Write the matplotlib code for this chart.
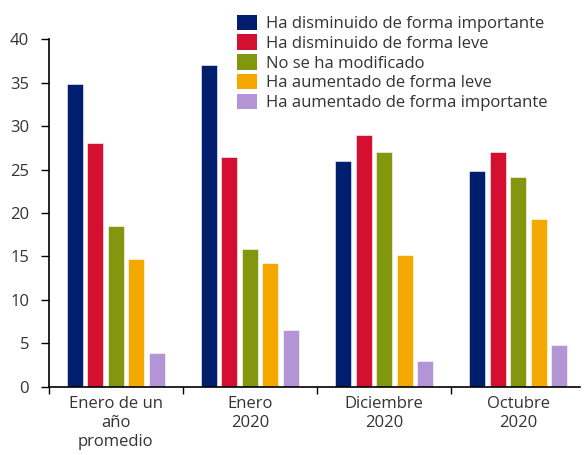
import numpy as np
import matplotlib.pyplot as plt
from matplotlib.patches import Patch

plt.rcParams['font.family'] = ['Open Sans', 'DejaVu Sans']

groups = ["Enero de un\naño\npromedio", "Enero\n2020", "Diciembre\n2020", "Octubre\n2020"]
series = [
    "Ha disminuido de forma importante",
    "Ha disminuido de forma leve",
    "No se ha modificado",
    "Ha aumentado de forma leve",
    "Ha aumentado de forma importante",
]
dism_importante = [34.8, 37.0, 26.0, 24.8]
dism_leve = [28.1, 26.4, 29.0, 27.0]
sin_cambio = [18.5, 15.9, 27.0, 24.1]
aum_leve = [14.7, 14.2, 15.2, 19.3]
aum_importante = [3.9, 6.5, 3.0, 4.8]
values = [dism_importante, dism_leve, sin_cambio, aum_leve, aum_importante]
colors = ["#001E6E", "#D50F2F", "#83970E", "#F5A800", "#B394D4"]

text_color = "#333333"
fs = 12

fig = plt.figure(figsize=(5.86, 4.55), dpi=100)
ax = fig.add_axes([48.6 / 586, (455 - 386.7) / 455, (580 - 48.6) / 586, (386.7 - 39.3) / 455])

x = np.arange(len(groups))
step = 0.153
width = 0.119
for i, (vals, col, name) in enumerate(zip(values, colors, series)):
    ax.bar(x + (i - 2) * step, vals, width, color=col, edgecolor="white",
           linewidth=0.4, label=name)

ax.set_xlim(-0.5, len(groups) - 0.54)
ax.set_ylim(0, 40)
ax.set_yticks(range(0, 41, 5))
ax.set_xticks(x)
ax.set_xticklabels(groups, fontsize=fs, color=text_color, linespacing=1.22)
ax.set_xticks(np.arange(-0.5, len(groups) - 0.5, 1), minor=True)
ax.tick_params(axis="x", which="major", length=0, pad=7)
ax.tick_params(axis="x", which="minor", length=5, width=1, color="black", direction="out")
ax.tick_params(axis="y", length=6, width=1, labelsize=fs, labelcolor=text_color, pad=8)

for side in ("top", "right"):
    ax.spines[side].set_visible(False)
for side in ("left", "bottom"):
    ax.spines[side].set_linewidth(1.2)

handles = [Patch(facecolor=c, edgecolor="none") for c in colors]
fig.legend(handles, series, loc="upper left", bbox_to_anchor=(230 / 586, 1 - 8 / 455),
           frameon=False, fontsize=fs, handlelength=1.2, handleheight=1.05,
           handletextpad=0.55, labelspacing=0.14, borderaxespad=0, labelcolor=text_color)

fig.savefig("out.png", dpi=100)
